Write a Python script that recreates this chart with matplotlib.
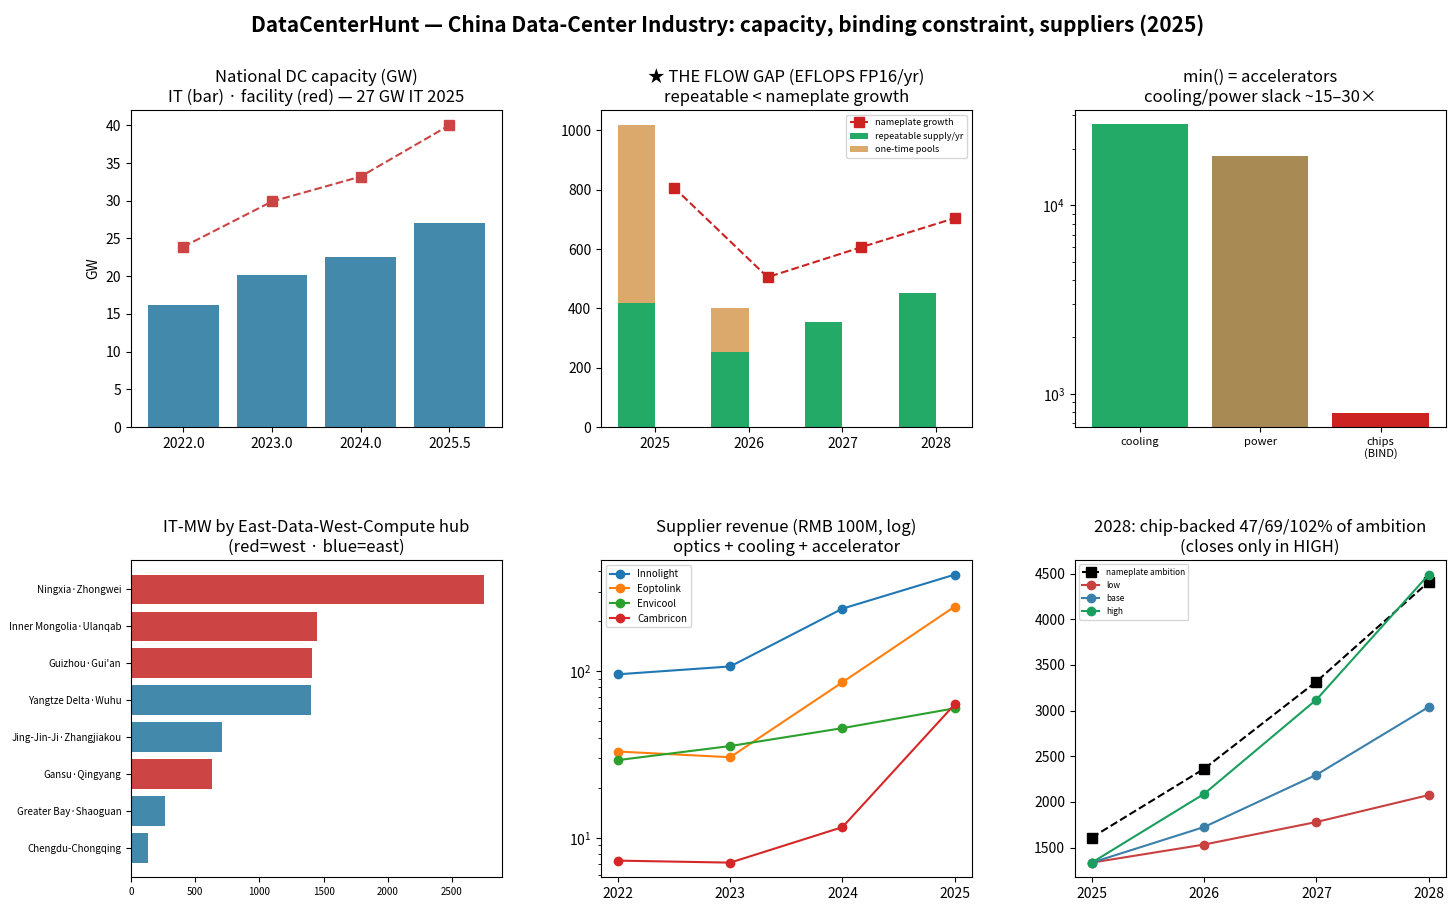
import matplotlib

matplotlib.use("Agg")
import matplotlib.pyplot as plt
import numpy as np

plt.rcParams["font.family"] = ["Noto Sans CJK JP", "DejaVu Sans"]
plt.rcParams["axes.unicode_minus"] = False

# --- data --------------------------------------------------------------------
cap_labels = ["2022.0", "2023.0", "2024.0", "2025.5"]
cap_it = [16.2, 20.1, 22.5, 27.1]
cap_facility = [23.9, 29.9, 33.2, 40.0]

flow_years = [2025, 2026, 2027, 2028]
flow_repeatable = [418, 252, 353, 451]
flow_onetime = [599, 148, 0, 0]
flow_nameplate = [807, 505, 606, 704]

constraint_names = ["cooling", "power", "chips\n(BIND)"]
constraint_vals = [27000, 18200, 795]

hub_names = ["Ningxia·Zhongwei", "Inner Mongolia·Ulanqab", "Guizhou·Gui'an",
             "Yangtze Delta·Wuhu", "Jing-Jin-Ji·Zhangjiakou", "Gansu·Qingyang",
             "Greater Bay·Shaoguan", "Chengdu-Chongqing"]
hub_mw = [2750, 1450, 1411, 1403, 705, 627, 266, 133]
hub_west = [True, True, True, False, False, True, False, False]

rev_years = [2022, 2023, 2024, 2025]
rev_innolight = [96, 107, 238, 381]
rev_eoptolink = [33, 30.5, 86, 245]
rev_envicool = [29.3, 35.6, 45.6, 60]
rev_cambricon = [7.3, 7.1, 11.6, 63.4]

amb_years = [2025, 2026, 2027, 2028]
amb_nameplate = [1610, 2363, 3318, 4410]
amb_low = [1335, 1533, 1780, 2075]
amb_base = [1335, 1725, 2297, 3040]
amb_high = [1335, 2088, 3120, 4490]
# -----------------------------------------------------------------------------

RED = "#cc4444"
BLUE = "#4289ab"

fig = plt.figure(figsize=(14.56, 9.13), dpi=100)
W, H = 0.2545, 0.347
lefts = [0.090, 0.4128, 0.7383]
bottoms = [0.5323, 0.0394]
axs = [[fig.add_axes([l, b, W, H]) for l in lefts] for b in bottoms]

fig.suptitle("DataCenterHunt — China Data-Center Industry: capacity, binding constraint, suppliers (2025)",
             fontsize=15, fontweight="bold", y=0.985)

# 1. national capacity
ax = axs[0][0]
x = np.arange(len(cap_labels))
ax.bar(x, cap_it, width=0.8, color=BLUE)
ax.plot(x, cap_facility, "s--", color=RED, ms=7, lw=1.5)
ax.set_xticks(x)
ax.set_xticklabels(cap_labels)
ax.set_ylabel("GW")
ax.set_title("National DC capacity (GW)\nIT (bar) · facility (red) — 27 GW IT 2025", fontsize=12)

# 2. flow gap
ax = axs[0][1]
fy = np.array(flow_years)
ax.bar(fy - 0.2, flow_repeatable, width=0.4, color="#22aa66", label="repeatable supply/yr")
ax.bar(fy - 0.2, flow_onetime, width=0.4, bottom=flow_repeatable, color="#dba96b",
       label="one-time pools")
ax.plot(fy + 0.2, flow_nameplate, "s--", color="#cc2222", ms=7, lw=1.5, label="nameplate growth")
ax.set_xticks(fy)
ax.legend(loc="upper right", fontsize=6.5)
ax.set_title("★ THE FLOW GAP (EFLOPS FP16/yr)\nrepeatable < nameplate growth", fontsize=12)

# 3. binding constraint
ax = axs[0][2]
ax.bar(np.arange(3), constraint_vals, width=0.8, color=["#22aa66", "#a88a55", "#cc2222"])
ax.set_yscale("log")
ax.set_ylim(667, 32000)
ax.set_xticks(np.arange(3))
ax.set_xticklabels(constraint_names, fontsize=8)
ax.set_title("min() = accelerators\ncooling/power slack ~15–30×", fontsize=12)

# 4. hubs
ax = axs[1][0]
y = np.arange(len(hub_names))
ax.barh(y, hub_mw, height=0.8, color=[RED if w else BLUE for w in hub_west])
ax.set_yticks(y)
ax.set_yticklabels(hub_names, fontsize=7)
ax.invert_yaxis()
ax.tick_params(axis="x", labelsize=7)
ax.set_title("IT-MW by East-Data-West-Compute hub\n(red=west · blue=east)", fontsize=12)

# 5. supplier revenue
ax = axs[1][1]
ax.plot(rev_years, rev_innolight, "o-", color="#1f77b4", label="Innolight")
ax.plot(rev_years, rev_eoptolink, "o-", color="#ff7f0e", label="Eoptolink")
ax.plot(rev_years, rev_envicool, "o-", color="#2ca02c", label="Envicool")
ax.plot(rev_years, rev_cambricon, "o-", color="#d62728", label="Cambricon")
ax.set_yscale("log")
ax.set_xticks(rev_years)
ax.legend(loc="upper left", fontsize=7)
ax.set_title("Supplier revenue (RMB 100M, log)\noptics + cooling + accelerator", fontsize=12)

# 6. 2028 ambition
ax = axs[1][2]
ax.plot(amb_years, amb_nameplate, "s--", color="black", ms=7, lw=1.5, label="nameplate ambition")
ax.plot(amb_years, amb_low, "o-", color="#c84040", label="low")
ax.plot(amb_years, amb_base, "o-", color="#3a80ab", label="base")
ax.plot(amb_years, amb_high, "o-", color="#1a9e5e", label="high")
ax.set_xticks(amb_years)
ax.legend(loc="upper left", fontsize=6)
ax.set_title("2028: chip-backed 47/69/102% of ambition\n(closes only in HIGH)", fontsize=12)

fig.savefig("out.png", dpi=100)
